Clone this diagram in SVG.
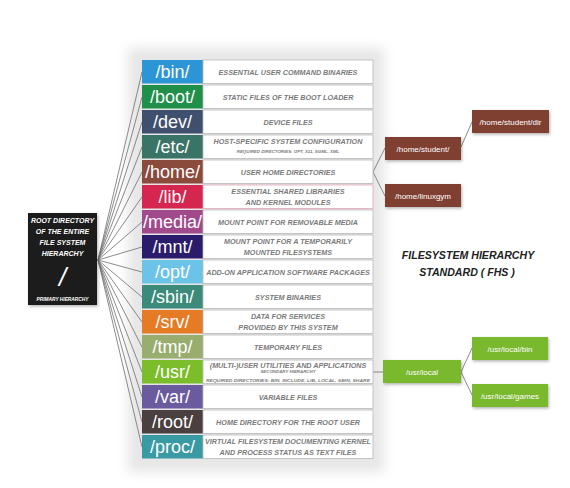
<svg xmlns="http://www.w3.org/2000/svg" width="570" height="488" viewBox="0 0 570 488">
<defs>
<filter id="blur" x="-20%" y="-20%" width="140%" height="140%"><feGaussianBlur stdDeviation="6"/></filter>
<filter id="sh" x="-20%" y="-30%" width="140%" height="160%"><feDropShadow dx="1" dy="1.5" stdDeviation="1.5" flood-color="#000" flood-opacity="0.3"/></filter>
<style>
.dir{font-family:"Liberation Sans",Arial,sans-serif;font-size:18px;fill:#fff;text-anchor:middle}
.desc{fill:#fff;stroke:#b9b9b9;stroke-width:0.8}
.dt{font-family:"Liberation Sans",Arial,sans-serif;font-weight:bold;font-style:italic;font-size:7.2px;fill:#7a7a7a;text-anchor:middle}
.ds{font-family:"Liberation Sans",Arial,sans-serif;font-weight:bold;font-style:italic;font-size:4.4px;fill:#7a7a7a;text-anchor:middle}
.rt{font-family:"Liberation Sans",Arial,sans-serif;font-weight:bold;font-style:italic;font-size:7px;fill:#fff;text-anchor:middle}
.sub{font-family:"Liberation Sans",Arial,sans-serif;font-size:8px;fill:#fff;text-anchor:middle}
.ttl{font-family:"Liberation Sans",Arial,sans-serif;font-weight:bold;font-style:italic;font-size:10.6px;fill:#222;text-anchor:middle}
.ln{stroke:#6e6e6e;stroke-width:0.8;fill:none}
.brn{fill:#7f3f33}
.grn{fill:#7ab82e}
</style>
</defs>
<rect width="570" height="488" fill="#fff"/>
<rect x="128" y="48" width="256" height="424" fill="#e6e6e6" filter="url(#blur)"/>

<g id="connectors">
<line class="ln" x1="98" y1="260" x2="142" y2="72"/>
<line class="ln" x1="98" y1="260" x2="142" y2="97"/>
<line class="ln" x1="98" y1="260" x2="142" y2="122"/>
<line class="ln" x1="98" y1="260" x2="142" y2="147"/>
<line class="ln" x1="98" y1="260" x2="142" y2="172"/>
<line class="ln" x1="98" y1="260" x2="142" y2="197"/>
<line class="ln" x1="98" y1="260" x2="142" y2="222"/>
<line class="ln" x1="98" y1="260" x2="142" y2="247"/>
<line class="ln" x1="98" y1="260" x2="142" y2="272"/>
<line class="ln" x1="98" y1="260" x2="142" y2="297"/>
<line class="ln" x1="98" y1="260" x2="142" y2="322"/>
<line class="ln" x1="98" y1="260" x2="142" y2="347"/>
<line class="ln" x1="98" y1="260" x2="142" y2="372"/>
<line class="ln" x1="98" y1="260" x2="142" y2="397"/>
<line class="ln" x1="98" y1="260" x2="142" y2="422"/>
<line class="ln" x1="98" y1="260" x2="142" y2="447"/>
<polyline class="ln" points="385,148 373,172 385,196"/>
<line class="ln" x1="461" y1="147" x2="472" y2="122"/>
<line class="ln" x1="373" y1="372" x2="383" y2="372"/>
<polyline class="ln" points="472,348 461,372 472,395"/>
</g>

<g id="root">
<rect x="28" y="213" width="69" height="92" fill="#1a1a1a" filter="url(#sh)"/>
<text class="rt" x="62.5" y="222.5">ROOT DIRECTORY</text>
<text class="rt" x="62.5" y="233.5">OF THE ENTIRE</text>
<text class="rt" x="62.5" y="244.5">FILE SYSTEM</text>
<text class="rt" x="62.5" y="255.5">HIERARCHY</text>
<text x="62.5" y="286" font-family="Liberation Sans,Arial,sans-serif" font-size="26" font-style="italic" fill="#fff" text-anchor="middle">/</text>
<text class="rt" x="62.5" y="301" style="font-size:4.8px">PRIMARY HIERARCHY</text>
</g>

<g id="bin"><rect x="142" y="60" width="61" height="23.5" fill="#2b95d6"/><rect class="desc" x="203" y="60" width="170" height="23.5"/><text class="dir" x="172.5" y="78">/bin/</text><text class="dt" x="288" y="74.5">ESSENTIAL USER COMMAND BINARIES</text></g>
<g id="boot"><rect x="142" y="85" width="61" height="23.5" fill="#1f8f4a"/><rect class="desc" x="203" y="85" width="170" height="23.5"/><text class="dir" x="172.5" y="103">/boot/</text><text class="dt" x="288" y="99.5">STATIC FILES OF THE BOOT LOADER</text></g>
<g id="dev"><rect x="142" y="110" width="61" height="23.5" fill="#3f4f6e"/><rect class="desc" x="203" y="110" width="170" height="23.5"/><text class="dir" x="172.5" y="128">/dev/</text><text class="dt" x="288" y="124.5">DEVICE FILES</text></g>
<g id="etc"><rect x="142" y="135" width="61" height="23.5" fill="#3a7466"/><rect class="desc" x="203" y="135" width="170" height="23.5"/><text class="dir" x="172.5" y="153">/etc/</text><text class="dt" x="288" y="144.3">HOST-SPECIFIC SYSTEM CONFIGURATION</text><text class="ds" x="288" y="152.6">REQUIRED DIRECTORIES: OPT, X11, SGML, XML</text></g>
<g id="home"><rect x="142" y="160" width="61" height="23.5" fill="#8a4a3c"/><rect class="desc" x="203" y="160" width="170" height="23.5"/><text class="dir" x="172.5" y="178">/home/</text><text class="dt" x="288" y="174.5">USER HOME DIRECTORIES</text></g>
<g id="lib"><rect x="142" y="185" width="61" height="23.5" fill="#d4264f"/><rect class="desc" x="203" y="185" width="170" height="23.5" style="stroke:#e3a6b6"/><text class="dir" x="172.5" y="203">/lib/</text><text class="dt" x="288" y="193.7">ESSENTIAL SHARED LIBRARIES</text><text class="dt" x="288" y="204.7">AND KERNEL MODULES</text></g>
<g id="media"><rect x="142" y="210" width="61" height="23.5" fill="#a04a8c"/><rect class="desc" x="203" y="210" width="170" height="23.5"/><text class="dir" x="172.5" y="228">/media/</text><text class="dt" x="288" y="224.5">MOUNT POINT FOR REMOVABLE MEDIA</text></g>
<g id="mnt"><rect x="142" y="235" width="61" height="23.5" fill="#2a1c6a"/><rect class="desc" x="203" y="235" width="170" height="23.5"/><text class="dir" x="172.5" y="253">/mnt/</text><text class="dt" x="288" y="243.7">MOUNT POINT FOR A TEMPORARILY</text><text class="dt" x="288" y="254.7">MOUNTED FILESYSTEMS</text></g>
<g id="opt"><rect x="142" y="260" width="61" height="23.5" fill="#6cc3e8"/><rect class="desc" x="203" y="260" width="170" height="23.5"/><text class="dir" x="172.5" y="278">/opt/</text><text class="dt" x="288" y="274.5">ADD-ON APPLICATION SOFTWARE PACKAGES</text></g>
<g id="sbin"><rect x="142" y="285" width="61" height="23.5" fill="#3b8a7a"/><rect class="desc" x="203" y="285" width="170" height="23.5"/><text class="dir" x="172.5" y="303">/sbin/</text><text class="dt" x="288" y="299.5">SYSTEM BINARIES</text></g>
<g id="srv"><rect x="142" y="310" width="61" height="23.5" fill="#e57b25"/><rect class="desc" x="203" y="310" width="170" height="23.5"/><text class="dir" x="172.5" y="328">/srv/</text><text class="dt" x="288" y="318.7">DATA FOR SERVICES</text><text class="dt" x="288" y="329.7">PROVIDED BY THIS SYSTEM</text></g>
<g id="tmp"><rect x="142" y="335" width="61" height="23.5" fill="#98ad6e"/><rect class="desc" x="203" y="335" width="170" height="23.5"/><text class="dir" x="172.5" y="353">/tmp/</text><text class="dt" x="288" y="349.5">TEMPORARY FILES</text></g>
<g id="usr"><rect x="142" y="360" width="61" height="23.5" fill="#7cbd2c"/><rect class="desc" x="203" y="360" width="170" height="23.5"/><text class="dir" x="172.5" y="378">/usr/</text><text class="dt" x="288" y="367.6">(MULTI-)USER UTILITIES AND APPLICATIONS</text><text class="ds" x="288" y="373.4">SECONDARY HIERARCHY</text><text class="ds" x="288" y="381.5" textLength="164" lengthAdjust="spacingAndGlyphs">REQUIRED DIRECTORIES: BIN, INCLUDE, LIB, LOCAL, SBIN, SHARE</text></g>
<g id="var"><rect x="142" y="385" width="61" height="23.5" fill="#6a5a9e"/><rect class="desc" x="203" y="385" width="170" height="23.5"/><text class="dir" x="172.5" y="403">/var/</text><text class="dt" x="288" y="399.5">VARIABLE FILES</text></g>
<g id="rootdir"><rect x="142" y="410" width="61" height="23.5" fill="#4a4040"/><rect class="desc" x="203" y="410" width="170" height="23.5"/><text class="dir" x="172.5" y="428">/root/</text><text class="dt" x="288" y="424.5">HOME DIRECTORY FOR THE ROOT USER</text></g>
<g id="proc"><rect x="142" y="435" width="61" height="23.5" fill="#3a9aa4"/><rect class="desc" x="203" y="435" width="170" height="23.5"/><text class="dir" x="172.5" y="453">/proc/</text><text class="dt" x="288" y="443.7">VIRTUAL FILESYSTEM DOCUMENTING KERNEL</text><text class="dt" x="288" y="454.7">AND PROCESS STATUS AS TEXT FILES</text></g>

<g id="home-student"><rect class="brn" x="385" y="137" width="76" height="23" filter="url(#sh)"/><text class="sub" x="423" y="151.5">/home/student/</text></g>
<g id="home-linuxgym"><rect class="brn" x="385" y="184" width="76" height="23" filter="url(#sh)"/><text class="sub" x="423" y="198.5">/home/linuxgym</text></g>
<g id="home-student-dir"><rect class="brn" x="472" y="110" width="77" height="23" filter="url(#sh)"/><text class="sub" x="510.5" y="124.5">/home/student/dir</text></g>

<g id="usr-local"><rect class="grn" x="383" y="360" width="78" height="23" filter="url(#sh)"/><text class="sub" x="422" y="374.5">/usr/local</text></g>
<g id="usr-local-bin"><rect class="grn" x="472" y="337" width="76" height="23" filter="url(#sh)"/><text class="sub" x="510" y="351.5">/usr/local/bin</text></g>
<g id="usr-local-games"><rect class="grn" x="472" y="384" width="76" height="23" filter="url(#sh)"/><text class="sub" x="510" y="398.5">/usr/local/games</text></g>

<g id="title">
<text class="ttl" x="468" y="259">FILESYSTEM HIERARCHY</text>
<text class="ttl" x="467" y="276">STANDARD ( FHS )</text>
</g>
</svg>
